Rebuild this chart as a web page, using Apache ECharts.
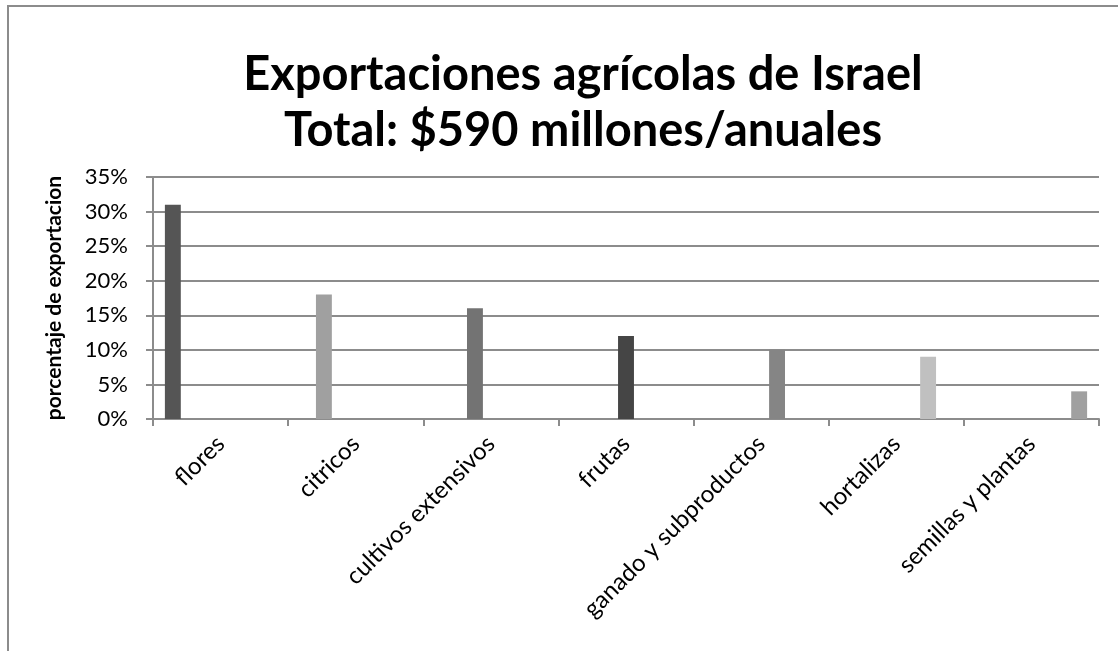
<!DOCTYPE html>
<html>
<head>
<meta charset="utf-8">
<script src="https://cdn.jsdelivr.net/npm/echarts@6/dist/echarts.min.js"></script>
<style>
html,body{margin:0;padding:0;background:#fff;}
#chart{width:1118px;height:651px;}
</style>
</head>
<body>
<div id="chart"></div>
<script>
var categories = ['flores','citricos','cultivos extensivos','frutas','ganado y subproductos','hortalizas','semillas y plantas'];
var values = [31, 18, 16, 12, 10, 9, 4];
var colors = ['#555555','#a0a0a0','#737373','#454545','#858585','#c0c0c0','#a0a0a0'];
var titleLines = ['Exportaciones agrícolas de Israel', 'Total: $590 millones/anuales'];
var yAxisName = 'porcentaje de exportacion';

var chart = echarts.init(document.getElementById('chart'));
var series = categories.map(function(c, i){
  var d = categories.map(function(_, j){ return j === i ? values[i] : '-'; });
  return {
    name: c, type: 'bar', data: d,
    barGap: '0%', barCategoryGap: '17.6%',
    itemStyle: {color: colors[i]},
    emphasis: {disabled: true}
  };
});
var font = 'Lato, "Open Sans", sans-serif';
chart.setOption({
  animation: false,
  graphic: [{
    type: 'rect', silent: true,
    shape: {x: 8, y: 6, width: 1200, height: 700},
    style: {fill: 'none', stroke: '#8c8c8c', lineWidth: 2}
  }, {
    type: 'text', silent: true, x: 583, y: 75,
    style: {
      text: titleLines.join('\n'), align: 'center', verticalAlign: 'top',
      fontFamily: font, fontWeight: 'bold', fontSize: 47, lineHeight: 56, fill: '#000'
    },
    y: 47
  }],
  grid: {left: 153, right: 19, top: 177, bottom: 232, containLabel: false},
  xAxis: {
    type: 'category', data: categories,
    axisLine: {lineStyle: {color: '#8c8c8c', width: 2}},
    axisTick: {show: true, length: 7, lineStyle: {color: '#8c8c8c', width: 2}, alignWithLabel: false},
    axisLabel: {rotate: 45, interval: 0, margin: 21, fontFamily: font, fontSize: 24, color: '#000'}
  },
  yAxis: {
    type: 'value', min: 0, max: 35, interval: 5,
    name: yAxisName, nameLocation: 'middle', nameGap: 88,
    nameTextStyle: {fontFamily: font, fontWeight: 'bold', fontSize: 21, color: '#000'},
    axisLine: {show: true, lineStyle: {color: '#8c8c8c', width: 2}},
    axisTick: {show: true, length: 7, lineStyle: {color: '#8c8c8c', width: 2}},
    splitLine: {lineStyle: {color: '#8c8c8c', width: 2}},
    axisLabel: {formatter: '{value}%', margin: 25, fontFamily: font, fontSize: 22, color: '#000'}
  },
  series: series
});
</script>
</body>
</html>
